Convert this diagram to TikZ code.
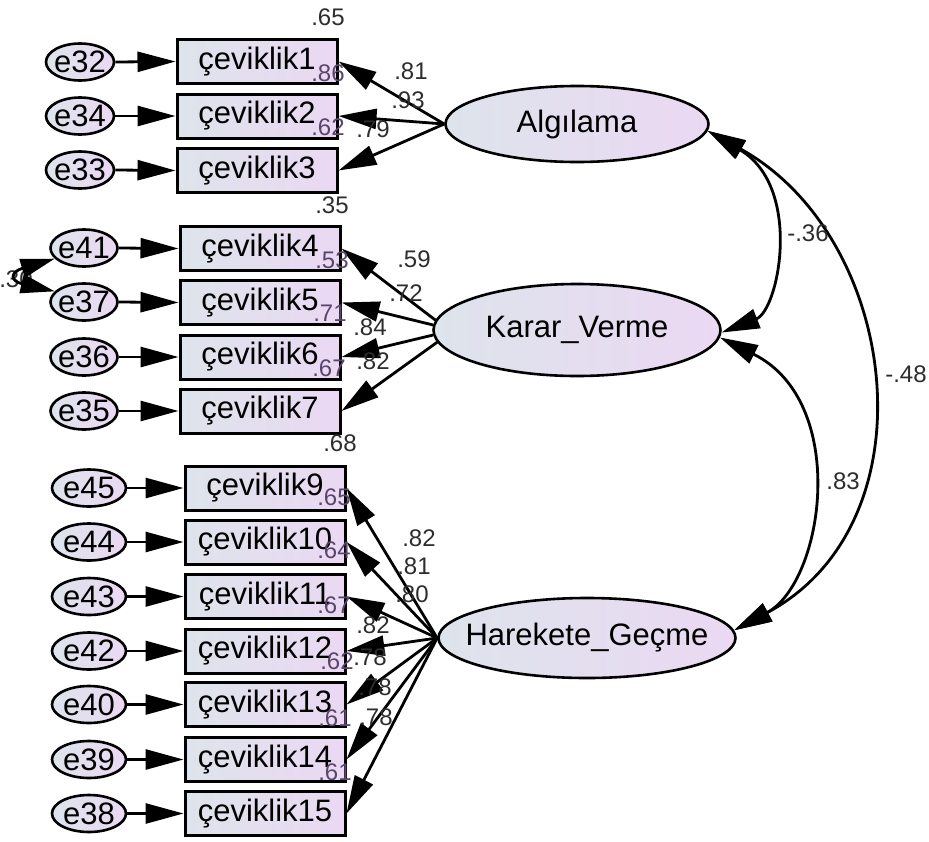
\documentclass[tikz,border=0pt]{standalone}
\usepackage{fontspec}
\setmainfont{Liberation Sans}
\usetikzlibrary{arrows.meta,shapes.geometric}

\definecolor{fillL}{RGB}{221,228,235}
\definecolor{fillR}{RGB}{235,216,243}
\definecolor{numc}{RGB}{45,45,45}
\definecolor{numin}{RGB}{90,70,108}

\begin{document}
\begin{tikzpicture}[x=1pt,y=-1pt,
  tip/.style={-{Triangle[length=38pt,width=20pt]}},
  twotips/.style={{Triangle[length=38pt,width=20pt]}-{Triangle[length=38pt,width=20pt]}},
  smalltips/.style={{Triangle[length=34pt,width=19pt]}-{Triangle[length=34pt,width=19pt]}},
  wire/.style={line width=2.8pt},
  obsbox/.style={draw, line width=3pt, minimum width=160pt, minimum height=44pt,
    inner sep=0pt, left color=fillL, right color=fillR, font=\fontsize{31}{36}\selectfont},
  errell/.style={ellipse, draw, line width=2.6pt, minimum height=37pt, inner sep=0pt,
    left color=fillL, right color=fillR, font=\fontsize{31}{36}\selectfont},
  latell/.style={ellipse, draw, line width=2.6pt, inner sep=0pt,
    left color=fillL, right color=fillR, font=\fontsize{31}{36}\selectfont},
  num/.style={font=\fontsize{24}{28}\selectfont, text=numc, inner sep=0pt},
  numin/.style={num, text=numin}
]
\useasboundingbox (0,0) rectangle (929,841);

% ---- latent variables (text boxes of zero width so the ellipse keeps its size)
\node[latell, minimum width=263pt, minimum height=76pt] (A) at (577,124) {\makebox[0pt]{Algılama}};
\node[latell, minimum width=287pt, minimum height=92pt] (K) at (577,330) {\makebox[0pt]{Karar\_Verme}};
\node[latell, minimum width=297pt, minimum height=80pt] (H) at (587,638) {\makebox[0pt]{Harekete\_Geçme}};

% ---- observed indicators
\node[obsbox] (b1) at (257,61.5) {çeviklik1};
\node[obsbox] (b2) at (257,116) {çeviklik2};
\node[obsbox] (b3) at (257,170.5) {çeviklik3};
\node[obsbox] (b4) at (260,248.5) {çeviklik4};
\node[obsbox] (b5) at (260,302.5) {çeviklik5};
\node[obsbox] (b6) at (260,357) {çeviklik6};
\node[obsbox] (b7) at (260,411) {çeviklik7};
\node[obsbox] (b9) at (265,488) {çeviklik9};
\node[obsbox] (b10) at (265,542) {çeviklik10};
\node[obsbox] (b11) at (265,596.5) {çeviklik11};
\node[obsbox] (b12) at (265,651) {çeviklik12};
\node[obsbox] (b13) at (265,704.5) {çeviklik13};
\node[obsbox] (b14) at (265,759.5) {çeviklik14};
\node[obsbox] (b15) at (265,813.5) {çeviklik15};

% ---- error terms
\node[errell, minimum width=68pt] (e32) at (80,62) {\makebox[0pt]{e32}};
\node[errell, minimum width=68pt] (e34) at (80,116) {\makebox[0pt]{e34}};
\node[errell, minimum width=68pt] (e33) at (80,170) {\makebox[0pt]{e33}};
\node[errell, minimum width=67pt] (e41) at (84,248) {\makebox[0pt]{e41}};
\node[errell, minimum width=67pt] (e37) at (84,302) {\makebox[0pt]{e37}};
\node[errell, minimum width=67pt] (e36) at (84,357) {\makebox[0pt]{e36}};
\node[errell, minimum width=67pt] (e35) at (84,411) {\makebox[0pt]{e35}};
\node[errell, minimum width=74pt] (e45) at (89,488) {\makebox[0pt]{e45}};
\node[errell, minimum width=74pt] (e44) at (89,542) {\makebox[0pt]{e44}};
\node[errell, minimum width=74pt] (e43) at (89,596.5) {\makebox[0pt]{e43}};
\node[errell, minimum width=74pt] (e42) at (89,651) {\makebox[0pt]{e42}};
\node[errell, minimum width=74pt] (e40) at (89,704.5) {\makebox[0pt]{e40}};
\node[errell, minimum width=74pt] (e39) at (89,759.5) {\makebox[0pt]{e39}};
\node[errell, minimum width=74pt] (e38) at (89,813.5) {\makebox[0pt]{e38}};

% ---- error -> indicator paths
\foreach \e/\b in {e32/b1,e34/b2,e33/b3,e41/b4,e37/b5,e36/b6,e35/b7,
                   e45/b9,e44/b10,e43/b11,e42/b12,e40/b13,e39/b14,e38/b15}
  \draw[wire,tip] (\e.east) -- (\b.west);

% ---- factor loadings
\foreach \b in {b1,b2,b3} \draw[wire,tip] (A.west) -- (\b.east);
\draw[wire,tip] (K.176) -- (b4.east);
\draw[wire,tip] (K.178) -- (b5.east);
\draw[wire,tip] (K.182) -- (b6.east);
\draw[wire,tip] (K.185) -- (b7.east);
\foreach \b in {b9,b10,b11,b12,b13,b14,b15} \draw[wire,tip] (H.west) -- (\b.east);

% ---- correlated errors e41 <-> e37
\node[num] (c1) at (16,279) {.30};
\draw[wire,smalltips] (e41.200) .. controls (10,272) and (10,281) .. (e37.160);

% ---- factor covariances
\draw[wire,twotips] (A.-3) .. controls (803,187) and (779,310) .. (K.-1);
\draw[wire,twotips] (A.-3) .. controls (900,237) and (935,523) .. (H.3);
\draw[wire,twotips] (K.-3) .. controls (850,402) and (824,582) .. (H.3);
\node[num] (c2) at (808,233) {-.36};
\node[num] (c3) at (906,374) {-.48};
\node[num] (c4) at (843,481) {.83};

% ---- loading estimates
\node[num] (l1) at (411,71) {.81};
\node[num] (l2) at (408,100) {.93};
\node[num] (l3) at (373,129) {.79};
\node[num] (l4) at (414,259) {.59};
\node[num] (l5) at (406,293) {.72};
\node[num] (l6) at (370,327) {.84};
\node[num] (l7) at (373,361) {.82};
\node[num] (l9) at (419,538) {.82};
\node[num] (l10) at (414,566) {.81};
\node[num] (l11) at (412,594) {.80};
\node[num] (l12) at (373,625) {.82};
\node[num] (l13) at (370,657) {.78};
\node[num] (l14) at (375,687) {.78};
\node[num] (l15) at (376,717) {.78};

% ---- squared multiple correlations
\node[num] (r1) at (328,17) {.65};
\node[numin] (r2) at (328,73) {.86};
\node[numin] (r3) at (328,127) {.62};
\node[num] (r4) at (332,205) {.35};
\node[numin] (r5) at (332,260) {.53};
\node[numin] (r6) at (330,313) {.71};
\node[numin] (r7) at (329,368) {.67};
\node[num] (r9) at (340,443) {.68};
\node[numin] (r10) at (334,497) {.65};
\node[numin] (r11) at (334,550) {.64};
\node[numin] (r12) at (334,605) {.67};
\node[numin] (r13) at (337,661) {.62};
\node[numin] (r14) at (335,718) {.61};
\node[numin] (r15) at (335,772) {.61};
\end{tikzpicture}
\end{document}
